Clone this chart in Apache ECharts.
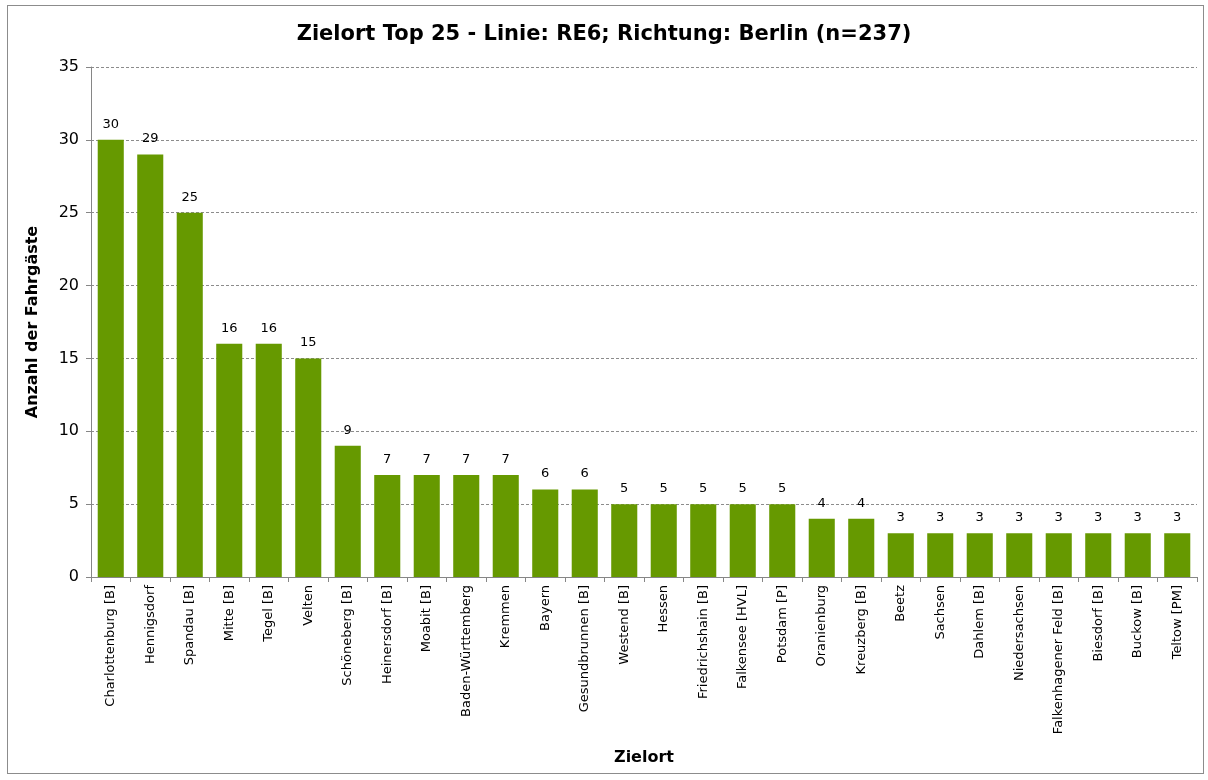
<!DOCTYPE html>
<html>
<head>
<meta charset="utf-8">
<script src="https://cdn.jsdelivr.net/npm/echarts@6/dist/echarts.min.js"></script>
<style>
  html, body { margin: 0; padding: 0; background: #fff; }
  #frame { position: absolute; left: 7px; top: 5px; width: 1197px; height: 769px; border: 1px solid #8c8c8c; box-sizing: border-box; }
  #chart { width: 1208px; height: 780px; }
</style>
</head>
<body>
<div id="frame"></div>
<div id="chart"></div>
<script>
// Zielorte (Kategorien)
const zielorte = [
  'Charlottenburg [B]', 'Hennigsdorf', 'Spandau [B]', 'Mitte [B]', 'Tegel [B]', 'Velten',
  'Schöneberg [B]', 'Heinersdorf [B]', 'Moabit [B]', 'Baden-Württemberg', 'Kremmen', 'Bayern',
  'Gesundbrunnen [B]', 'Westend [B]', 'Hessen', 'Friedrichshain [B]', 'Falkensee [HVL]', 'Potsdam [P]',
  'Oranienburg', 'Kreuzberg [B]', 'Beetz', 'Sachsen', 'Dahlem [B]', 'Niedersachsen',
  'Falkenhagener Feld [B]', 'Biesdorf [B]', 'Buckow [B]', 'Teltow [PM]'
];
// Anzahl der Fahrgäste
const anzahl = [30, 29, 25, 16, 16, 15, 9, 7, 7, 7, 7, 6, 6, 5, 5, 5, 5, 5, 4, 4, 3, 3, 3, 3, 3, 3, 3, 3];

const titel = 'Zielort Top 25 - Linie: RE6; Richtung: Berlin (n=237)';
const fontFam = '"DejaVu Sans", Verdana, sans-serif';

const chart = echarts.init(document.getElementById('chart'));

chart.setOption({
  animation: false,
  textStyle: { fontFamily: fontFam },
  title: {
    text: titel,
    left: 'center',
    top: 19,
    textStyle: { fontSize: 21, fontWeight: 'bold', color: '#000', fontFamily: fontFam }
  },
  grid: { left: 91, right: 11, top: 67, bottom: 203 },
  xAxis: {
    type: 'category',
    data: zielorte,
    name: 'Zielort',
    nameLocation: 'middle',
    nameGap: 173,
    nameTextStyle: { fontSize: 16, fontWeight: 'bold', color: '#000' },
    axisLine: { lineStyle: { color: '#868686' } },
    axisTick: { show: true, length: 5, lineStyle: { color: '#868686' } },
    axisLabel: { rotate: 90, interval: 0, fontSize: 13, color: '#000', margin: 8 }
  },
  yAxis: {
    type: 'value',
    min: 0,
    max: 35,
    interval: 5,
    name: 'Anzahl der Fahrgäste',
    nameLocation: 'middle',
    nameGap: 50,
    nameTextStyle: { fontSize: 16, fontWeight: 'bold', color: '#000' },
    axisLine: { show: true, lineStyle: { color: '#868686' } },
    axisTick: { show: true, length: 5, lineStyle: { color: '#868686' } },
    axisLabel: { fontSize: 16, color: '#000', margin: 12 },
    splitLine: { lineStyle: { color: '#8c8c8c', type: [3, 2], width: 1 } }
  },
  series: [{
    type: 'bar',
    data: anzahl,
    barCategoryGap: '34%',
    itemStyle: { color: '#669900' },
    label: {
      show: true,
      position: 'top',
      distance: 9,
      fontSize: 13,
      color: '#000'
    }
  }]
});
</script>
</body>
</html>
